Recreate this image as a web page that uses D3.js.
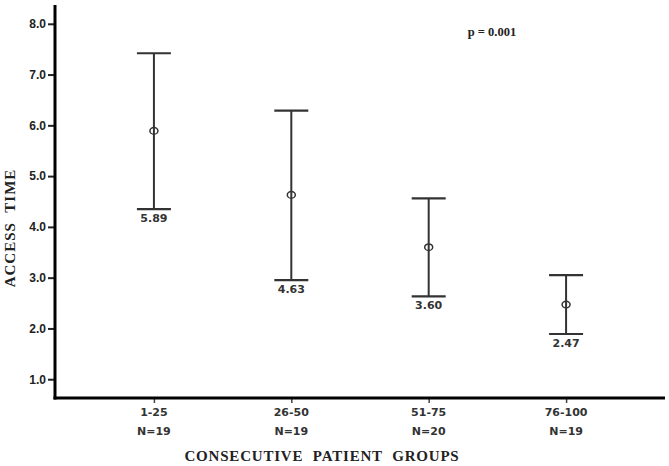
<!DOCTYPE html>
<html>
<head>
<meta charset="utf-8">
<script src="https://cdn.jsdelivr.net/npm/d3@7"></script>
<style>
  body { margin: 0; background: #fff; }
  svg { display: block; }
</style>
</head>
<body>
<svg id="chart" width="669" height="466"></svg>
<script>
// Chart data
const groups = ['1-25', '26-50', '51-75', '76-100'];
const counts = ['N=19', 'N=19', 'N=20', 'N=19'];
const means = [5.89, 4.63, 3.60, 2.47];
const upper = [7.42, 6.29, 4.56, 3.05];
const lower = [4.35, 2.95, 2.63, 1.89];
const yTicks = [1, 2, 3, 4, 5, 6, 7, 8];

const svg = d3.select('#chart');

const x = d3.scalePoint()
    .domain(groups)
    .range([55, 665])
    .padding(0.72);

const y = d3.scaleLinear()
    .domain([0.63, 8.37])
    .range([398, 5]);

// Y axis
const yAxis = svg.append('g')
    .attr('transform', 'translate(55,0)')
    .call(d3.axisLeft(y).tickValues(yTicks).tickFormat(d3.format('.1f')).tickSize(7).tickSizeOuter(0));
yAxis.select('.domain').remove();
yAxis.selectAll('.tick line').attr('stroke', '#222').attr('stroke-width', 2);
yAxis.selectAll('.tick text')
    .attr('x', -9)
    .style('font-family', 'Arial, "Liberation Sans", sans-serif')
    .style('font-weight', 'bold')
    .style('font-size', '12px')
    .attr('fill', '#222');

// X axis ticks and labels
const xAxis = svg.append('g')
    .attr('transform', 'translate(0,398)')
    .call(d3.axisBottom(x).tickSize(5).tickSizeOuter(0).tickFormat(''));
xAxis.select('.domain').remove();
xAxis.selectAll('.tick line').attr('stroke', '#444').attr('stroke-width', 1.5);

const xLab = svg.append('g');
groups.forEach((g, i) => {
    xLab.append('text')
        .attr('x', x(g))
        .attr('y', 416)
        .attr('text-anchor', 'middle')
        .style('font-family', '"DejaVu Sans", sans-serif')
        .style('font-weight', 'bold')
        .style('font-size', '11px')
        .attr('fill', '#333')
        .text(g);
    xLab.append('text')
        .attr('x', x(g))
        .attr('y', 435)
        .attr('text-anchor', 'middle')
        .style('font-family', '"DejaVu Sans", sans-serif')
        .style('font-weight', 'bold')
        .style('font-size', '11px')
        .attr('fill', '#333')
        .text(counts[i]);
});

// Axis lines
svg.append('line')
    .attr('x1', 55).attr('x2', 55)
    .attr('y1', 5).attr('y2', 399.5)
    .attr('stroke', '#000').attr('stroke-width', 3);
svg.append('line')
    .attr('x1', 53.5).attr('x2', 665)
    .attr('y1', 398).attr('y2', 398)
    .attr('stroke', '#000').attr('stroke-width', 3);

// Error bars
const bars = svg.append('g');
groups.forEach((g, i) => {
    const cx = x(g);
    bars.append('line')
        .attr('x1', cx).attr('x2', cx)
        .attr('y1', y(upper[i])).attr('y2', y(lower[i]))
        .attr('stroke', '#333').attr('stroke-width', 2);
    [upper[i], lower[i]].forEach(v => {
        bars.append('line')
            .attr('x1', cx - 17).attr('x2', cx + 17)
            .attr('y1', y(v)).attr('y2', y(v))
            .attr('stroke', '#333').attr('stroke-width', 2.2);
    });
    bars.append('ellipse')
        .attr('cx', cx).attr('cy', y(means[i]))
        .attr('rx', 4).attr('ry', 3.3)
        .attr('fill', 'none')
        .attr('stroke', '#333').attr('stroke-width', 1.5);
    bars.append('text')
        .attr('x', cx)
        .attr('y', y(lower[i]) + 13)
        .attr('text-anchor', 'middle')
        .style('font-family', '"DejaVu Sans", sans-serif')
        .style('font-weight', 'bold')
        .style('font-size', '11px')
        .attr('fill', '#333')
        .text(means[i].toFixed(2));
});

// Titles
svg.append('text')
    .attr('x', 322)
    .attr('y', 461)
    .attr('text-anchor', 'middle')
    .style('font-family', '"Liberation Serif", "Times New Roman", serif')
    .style('font-weight', 'bold')
    .style('font-size', '15px')
    .style('letter-spacing', '0.8px')
    .style('word-spacing', '5px')
    .attr('fill', '#222')
    .text('CONSECUTIVE PATIENT GROUPS');

svg.append('text')
    .attr('transform', 'translate(15,228) rotate(-90)')
    .attr('text-anchor', 'middle')
    .style('font-family', '"Liberation Serif", "Times New Roman", serif')
    .style('font-weight', 'bold')
    .style('font-size', '15px')
    .style('letter-spacing', '1px')
    .style('word-spacing', '5px')
    .attr('fill', '#222')
    .text('ACCESS TIME');

svg.append('text')
    .attr('x', 492)
    .attr('y', 36)
    .attr('text-anchor', 'middle')
    .style('font-family', '"Liberation Serif", "Times New Roman", serif')
    .style('font-weight', 'bold')
    .style('font-size', '12.5px')
    .attr('fill', '#222')
    .text('p = 0.001');
</script>
</body>
</html>
